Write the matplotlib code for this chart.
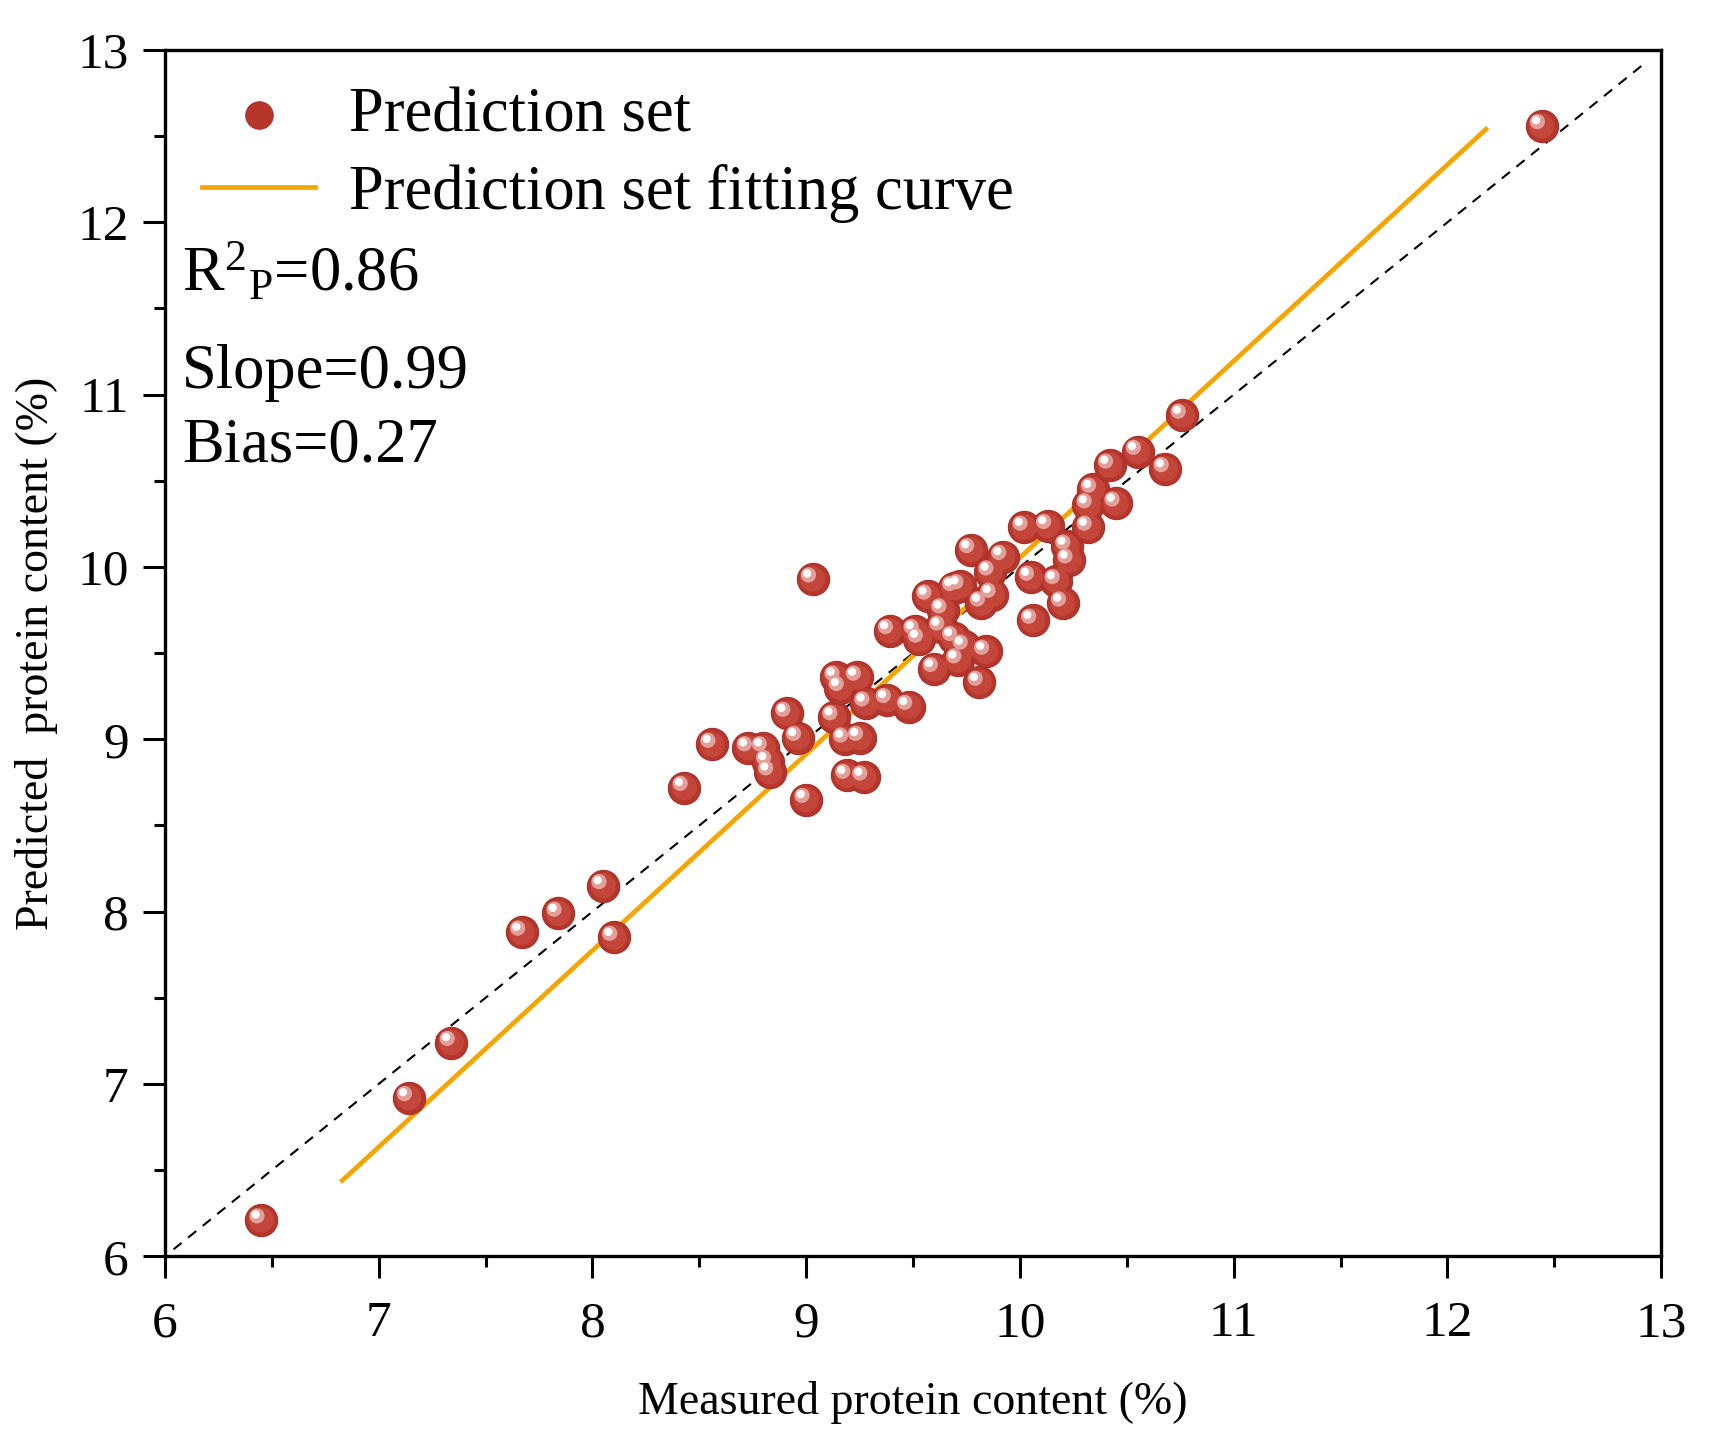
import matplotlib
matplotlib.use('Agg')
import matplotlib.pyplot as plt
from matplotlib.ticker import MultipleLocator
import matplotlib.transforms as mtransforms

plt.rcParams['font.family'] = ['Liberation Serif', 'DejaVu Serif']
plt.rcParams['mathtext.fontset'] = 'custom'
plt.rcParams['mathtext.rm'] = 'Liberation Serif'
plt.rcParams['mathtext.it'] = 'Liberation Serif:italic'

# Данные: измеренное и предсказанное содержание белка
measured = [6.45, 7.14, 7.34, 7.67, 7.84, 8.05, 8.10, 8.43, 8.56, 8.73,
            8.80, 8.82, 8.83, 8.91, 8.96, 9.00, 9.03, 9.13, 9.14, 9.16,
            9.18, 9.19, 9.24, 9.25, 9.27, 9.28, 9.38, 9.39, 9.48, 9.51,
            9.53, 9.57, 9.60, 9.63, 9.64, 9.69, 9.69, 9.72, 9.71, 9.74,
            9.77, 9.81, 9.82, 9.84, 9.86, 9.87, 9.92, 10.02, 10.05, 10.06,
            10.13, 10.17, 10.20, 10.22, 10.23, 10.32, 10.32, 10.34, 10.42, 10.45,
            10.55, 10.68, 10.76, 12.44]
predicted = [6.21, 6.92, 7.24, 7.88, 7.99, 8.15, 7.85, 8.72, 8.97, 8.95,
             8.95, 8.87, 8.81, 9.15, 9.01, 8.65, 9.93, 9.13, 9.36, 9.30,
             9.00, 8.79, 9.36, 9.01, 8.78, 9.21, 9.23, 9.63, 9.19, 9.63,
             9.58, 9.83, 9.41, 9.65, 9.75, 9.88, 9.59, 9.89, 9.46, 9.54,
             10.10, 9.33, 9.79, 9.51, 9.97, 9.84, 10.06, 10.23, 9.94, 9.69,
             10.24, 9.92, 9.79, 10.12, 10.04, 10.23, 10.36, 10.45, 10.59, 10.37,
             10.67, 10.57, 10.88, 12.56]

# Линия подгонки и линия 1:1
fit_x = [6.83, 12.18]
fit_y = [6.44, 12.54]
ref_x = [6.04, 12.93]
ref_y = [6.04, 12.93]

stats_text = [r'R$^{2}$$_{\mathrm{P}}$=0.86', 'Slope=0.99', 'Bias=0.27']

fig = plt.figure(figsize=(17.11, 14.49), dpi=100)
ax = fig.add_axes([0.0964, 0.133, 0.8745, 0.8325])

ax.plot(ref_x, ref_y, color='black', lw=1.5, ls=(0, (5, 4)), zorder=2)
ax.plot(fit_x, fit_y, color='#F5A500', lw=3.4, zorder=3,
        label='Prediction set fitting curve')

# Шарики: основа + блик, смещённый влево-вверх
ax.scatter(measured, predicted, s=540, color='#B7362C', edgecolors='#A5302A',
           linewidths=0.8, zorder=4, label='Prediction set')
ax.scatter(measured, predicted, s=330, color='#C4453A', edgecolors='none', zorder=5)
hl1 = mtransforms.offset_copy(ax.transData, fig=fig, x=-3, y=3, units='points')
hl2 = mtransforms.offset_copy(ax.transData, fig=fig, x=-4, y=4, units='points')
ax.scatter(measured, predicted, s=120, color='#E3A09A', edgecolors='none',
           zorder=6, transform=hl1)
ax.scatter(measured, predicted, s=35, color='white', edgecolors='none',
           zorder=7, transform=hl2)

ax.set_xlim(6, 13)
ax.set_ylim(6, 13)
ax.xaxis.set_major_locator(MultipleLocator(1))
ax.xaxis.set_minor_locator(MultipleLocator(0.5))
ax.yaxis.set_major_locator(MultipleLocator(1))
ax.yaxis.set_minor_locator(MultipleLocator(0.5))
ax.tick_params(which='both', direction='out', width=2.2, top=False, right=False,
               labelsize=37)
ax.tick_params(which='major', length=16)
ax.tick_params(axis='x', which='major', pad=16)
ax.tick_params(axis='y', which='major', pad=10)
ax.tick_params(which='minor', length=8)
for sp in ax.spines.values():
    sp.set_linewidth(2.4)

ax.set_xlabel('Measured protein content (%)', fontsize=33, labelpad=24)
ax.set_ylabel('Predicted  protein content (%)', fontsize=33, labelpad=14)

handles, labels = ax.get_legend_handles_labels()
ax.legend(handles[::-1], labels[::-1], loc='upper left', frameon=False,
          fontsize=45, handlelength=1.8, handletextpad=0.55, labelspacing=0.3,
          borderaxespad=0.2, bbox_to_anchor=(0.0, 1.0), markerscale=0.85)

for txt, yy in zip(stats_text, [11.60, 11.04, 10.61]):
    ax.text(6.08, yy, txt, fontsize=45, va='baseline', ha='left')

fig.savefig('out.png', dpi=100)
